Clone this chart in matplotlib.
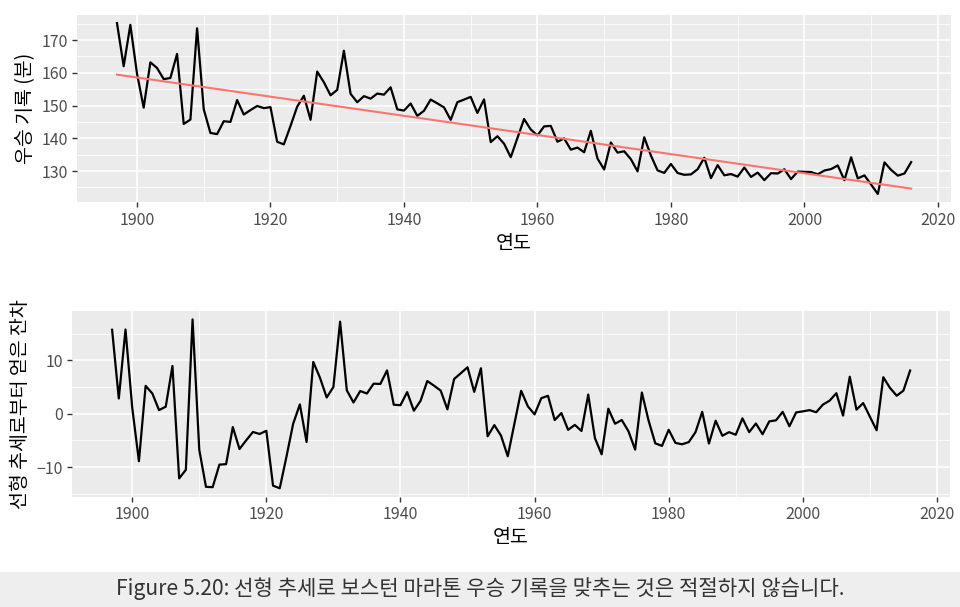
import numpy as np
import matplotlib.pyplot as plt

plt.rcParams['font.family'] = ['Noto Sans CJK KR', 'DejaVu Sans']

# Boston marathon winning times (minutes), 1897-2016
years = np.arange(1897, 2017)
minutes = [
    175.17, 162.00, 174.63, 159.73, 149.38, 163.20, 161.48, 158.07, 158.42, 165.75,
    144.40, 145.72, 173.60, 148.87, 141.65, 141.30, 145.23, 145.02, 151.68, 147.27,
    148.62, 149.88, 149.22, 149.52, 138.95, 138.17, 143.78, 149.67, 153.00, 145.67,
    160.37, 157.12, 153.13, 154.80, 166.75, 153.60, 151.02, 152.88, 152.12, 153.67,
    153.33, 155.57, 148.85, 148.47, 150.63, 146.85, 148.42, 151.83, 150.67, 149.45,
    145.65, 151.03, 151.83, 152.65, 147.75, 151.88, 138.85, 140.65, 138.37, 134.23,
    140.08, 145.90, 142.70, 140.90, 143.65, 143.80, 138.97, 139.98, 136.55, 137.18,
    135.75, 142.28, 133.82, 130.50, 138.75, 135.65, 136.05, 133.65, 129.92, 140.32,
    134.77, 130.22, 129.45, 132.18, 129.43, 128.87, 129.00, 130.57, 134.08, 127.85,
    131.83, 128.72, 129.10, 128.32, 131.10, 128.23, 129.55, 127.25, 129.37, 129.27,
    130.57, 127.57, 129.87, 129.78, 129.72, 129.03, 130.18, 130.62, 131.73, 127.23,
    134.22, 127.77, 128.70, 125.87, 123.03, 132.67, 130.37, 128.62, 129.28, 132.75,
]
minutes = np.array(minutes)

slope, intercept = np.polyfit(years, minutes, 1)
fitted = intercept + slope * years
resid = minutes - fitted

xticks = [1900, 1920, 1940, 1960, 1980, 2000, 2020]
xminor = [1910, 1930, 1950, 1970, 1990, 2010]

fig = plt.figure(figsize=(9.6, 6.07), dpi=100)
ax1 = fig.add_axes([0.0805, 0.6664, 0.910, 0.3096])
ax2 = fig.add_axes([0.0752, 0.1817, 0.9144, 0.3060])


def expand(lo, hi, f=0.05):
    d = (hi - lo) * f
    return lo - d, hi + d


def gg_style(ax, yticks, yminor):
    ax.set_facecolor('#EBEBEB')
    for s in ax.spines.values():
        s.set_visible(False)
    ax.set_xticks(xticks)
    ax.set_xticks(xminor, minor=True)
    ax.set_yticks(yticks)
    ax.set_yticks(yminor, minor=True)
    ax.grid(which='major', color='white', linewidth=1.1)
    ax.grid(which='minor', color='white', linewidth=0.55)
    ax.set_axisbelow(True)
    ax.tick_params(which='major', length=3.5, width=1.0, color='#333333',
                   labelcolor='#4D4D4D', labelsize=11.5, pad=3)
    ax.tick_params(which='minor', length=0)
    ax.set_xlabel('연도', fontsize=14, labelpad=3)


ax1.plot(years, minutes, color='black', linewidth=1.6)
ax1.plot(years, fitted, color='#F8766D', linewidth=1.5)
gg_style(ax1, [130, 140, 150, 160, 170], [125, 135, 145, 155, 165, 175])
ax1.set_xlim(*expand(years[0], years[-1]))
ax1.set_ylim(*expand(minutes.min(), minutes.max()))
ax1.set_ylabel('우승 기록 (분)', fontsize=14, labelpad=4)

ax2.plot(years, resid, color='black', linewidth=1.6)
gg_style(ax2, [-10, 0, 10], [-15, -5, 5, 15])
ax2.set_xlim(*expand(years[0], years[-1]))
ax2.set_ylim(*expand(resid.min(), resid.max()))
ax2.set_ylabel('선형 추세로부터 얻은 잔차', fontsize=14, labelpad=4)

# caption band
fig.patches.append(plt.Rectangle((0, 0), 1, 35 / 607, transform=fig.transFigure,
                                 facecolor='#EEEEEE', edgecolor='none', zorder=0))
fig.text(0.5, 18 / 607, 'Figure 5.20: 선형 추세로 보스턴 마라톤 우승 기록을 맞추는 것은 적절하지 않습니다.',
         ha='center', va='center', fontsize=15.2, color='#333333')

fig.savefig('out.png', dpi=100)
